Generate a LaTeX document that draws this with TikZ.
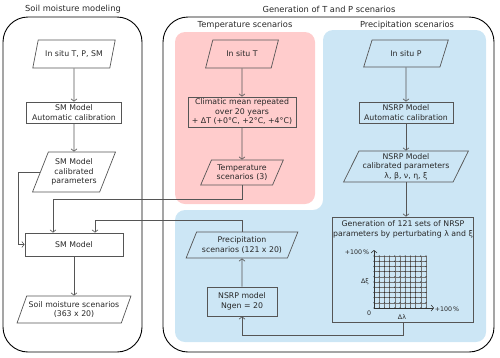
\documentclass[tikz,border=0pt]{standalone}
\usepackage{fontspec}
\setmainfont{DejaVu Sans}
\usetikzlibrary{positioning,arrows.meta,calc,shapes.geometric}
\definecolor{tpink}{RGB}{255,204,204}
\definecolor{pblue}{RGB}{204,230,245}
\definecolor{linegray}{RGB}{85,85,85}
\definecolor{txtgray}{RGB}{40,40,40}
\tikzset{
  grp/.style={draw=black, line width=0.9pt, rounded corners=25pt},
  zone/.style={rounded corners=10pt},
  ttl/.style={font=\fontsize{8.3}{10}\selectfont, text=txtgray, inner sep=1pt},
  proc/.style={rectangle, draw=linegray, line width=0.7pt, align=center, inner sep=1pt,
               font=\fontsize{7.8}{9.5}\selectfont, text=txtgray},
  io/.style={trapezium, trapezium left angle=63, trapezium right angle=117,
             trapezium stretches=true, draw=linegray, line width=0.7pt, align=center,
             inner sep=1pt, font=\fontsize{7.8}{9.5}\selectfont, text=txtgray},
  flow/.style={-{Straight Barb[length=2.5pt,width=6pt]}, linegray, line width=0.6pt},
  gridln/.style={black!55, line width=0.3pt},
  axlbl/.style={font=\fontsize{6.3}{7}\selectfont, inner sep=0.5pt, text=txtgray}
}

\begin{document}
\begin{tikzpicture}[x=1pt, y=-1pt]
\useasboundingbox (0,0) rectangle (500,357);
% coloured zones
\fill[tpink, zone] (175,32) rectangle (315,204);
\fill[pblue, zone] (323,30) -- (486,30) -- (486,342) -- (175,342) -- (175,210) -- (323,210) -- cycle;
% group frames
\draw[grp] (3,17) rectangle (142,352);
\draw[grp] (163,17) rectangle (494,352);
\node[ttl] (tsoil) at (73,9) {Soil moisture modeling};
\node[ttl] (tgen) at (329,9) {Generation of T and P scenarios};
\node[ttl] (ttemp) at (245,25) {Temperature scenarios};
\node[ttl] (tprec) at (407,25) {Precipitation scenarios};

% soil moisture column
\node[io, minimum width=83pt, minimum height=28pt] (insm) at (74,54) {In situ T, P, SM};
\node[proc, minimum width=95pt, minimum height=21pt] (smcal) at (74,112.5) {SM Model\\Automatic calibration};
\node[io, minimum width=83pt, minimum height=40pt] (smpar) at (74,172) {SM Model\\calibrated\\parameters};
\node[proc, minimum width=98pt, minimum height=23pt] (smmod) at (74,244.5) {SM Model};
\node[io, minimum width=114pt, minimum height=27pt] (smsc) at (74,309.5) {Soil moisture scenarios\\(363 x 20)};

% temperature column
\node[io, minimum width=73pt, minimum height=28pt] (inst) at (242,54) {In situ T};
\node[proc, minimum width=108pt, minimum height=30pt] (clim) at (242,112) {Climatic mean repeated\\over 20 years\\+ ΔT (+0°C, +2°C, +4°C)};
\node[io, minimum width=83pt, minimum height=25pt] (tsc) at (242,172.5) {Temperature\\scenarios (3)};

% precipitation column
\node[io, minimum width=85pt, minimum height=27pt] (insp) at (406,53.5) {In situ P};
\node[proc, minimum width=94pt, minimum height=21pt] (nsrpcal) at (406,112.5) {NSRP Model\\Automatic calibration};
\node[io, minimum width=125pt, minimum height=31pt] (nsrppar) at (406,166.5) {NSRP Model\\calibrated parameters\\λ, β, ν, η, ξ};
\node[proc, minimum width=141pt, minimum height=105pt] (gen) at (403,269.5) {};
\node[proc, draw=none, anchor=north] (gentxt) at ($(gen.north)+(0,3)$) {Generation of 121 sets of NRSP\\parameters by perturbating λ and ξ};
\node[io, minimum width=112pt, minimum height=26pt] (psc) at (242,245) {Precipitation\\scenarios (121 x 20)};
\node[proc, minimum width=70pt, minimum height=29pt] (nsrpgen) at (242,301.5) {NSRP model\\Ngen = 20};

% perturbation grid
\coordinate (org) at (374,308);
\begin{scope}[shift={(org)}]
  \foreach \i in {0,...,10} {
    \draw[gridln] (\i*5.2,0) -- (\i*5.2,-52);
    \draw[gridln] (0,-\i*5.2) -- (52,-\i*5.2);
  }
  \foreach \i in {0,...,10}
    \foreach \j in {0,...,10}
      \fill[black!85] (\i*5.2,-\j*5.2) circle (0.6pt);
\end{scope}
\draw[flow, black!80] (org) -- ++(0,-58);
\draw[flow, black!80] (org) -- ++(60,0);
\node[axlbl] (ytop) at (357,252) {+100\,\%};
\node[axlbl] (ymid) at (365,282) {Δξ};
\node[axlbl] (zero) at (369,313) {0};
\node[axlbl] (xmid) at (402,317) {Δλ};
\node[axlbl] (xend) at (447,309) {+100\,\%};

% connectors
\draw[flow] (insm) -- (smcal);
\draw[flow] (smcal) -- (smpar);
\draw[flow] (smpar.west) -- ++(-22,0) |- (smmod.west);
\draw[flow] (smmod) -- (smsc);
\draw[flow] (inst) -- (clim);
\draw[flow] (clim) -- (tsc);
\coordinate (tj) at (53,199);
\draw[flow] (tsc.south) |- (tj) -- (tj |- smmod.north);
\coordinate (pj) at (95,220);
\draw[flow] (psc.north) |- (pj) -- (pj |- smmod.north);
\draw[flow] (insp) -- (nsrpcal);
\draw[flow] (nsrpcal) -- (nsrppar);
\draw[flow] (nsrppar.south) -- (nsrppar.south |- gen.north);
\draw[flow] (gen.south) -- ++(0,13) -| (nsrpgen.south);
\draw[flow] (nsrpgen) -- (psc);
\end{tikzpicture}
\end{document}
